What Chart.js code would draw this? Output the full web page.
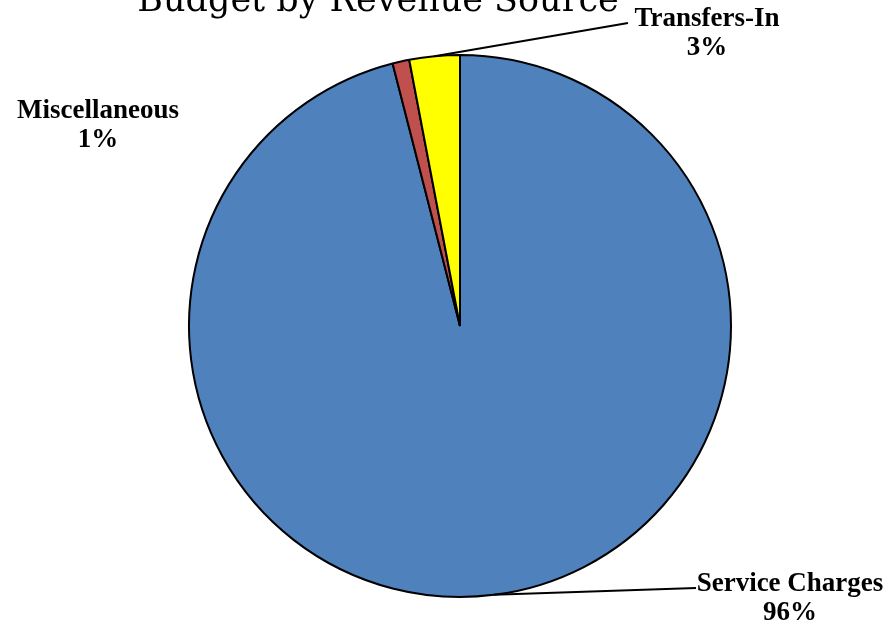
<!DOCTYPE html>
<html>
<head>
<meta charset="utf-8">
<script src="https://cdn.jsdelivr.net/npm/chart.js@4.4.1/dist/chart.umd.min.js"></script>
<style>
  html, body { margin: 0; padding: 0; background: #fff; }
  #wrap { width: 892px; height: 626px; }
</style>
</head>
<body>
<div id="wrap"><canvas id="grafico"></canvas></div>
<script>
var categorias = ['Service Charges', 'Miscellaneous', 'Transfers-In'];
var valores = [96, 1, 3];
var colores = ['#4F81BD', '#C0504D', '#FFFF00'];
var titulo = 'Budget by Revenue Source';

// posiciones de etiquetas (centro x, linea base del nombre, fin de la linea guia)
var etiquetas = [
  { x: 790, y: 591, linea: [696, 588] },
  { x: 98, y: 118, linea: null },
  { x: 707, y: 26, linea: [628, 23] }
];

var fuenteTitulo = '"DejaVu Serif", "Liberation Serif", serif';
var fuente = '"Liberation Serif", "DejaVu Serif", serif';

var etiquetasPlugin = {
  id: 'etiquetasPie',
  afterDraw: function(chart){
    var ctx = chart.ctx;
    var meta = chart.getDatasetMeta(0);
    var total = valores.reduce(function(a, b){ return a + b; }, 0);
    ctx.save();

    // titulo (cortado arriba como en la imagen)
    ctx.fillStyle = '#000';
    ctx.font = '35px ' + fuenteTitulo;
    ctx.textAlign = 'center';
    ctx.textBaseline = 'alphabetic';
    ctx.fillText(titulo, 378, 11);

    meta.data.forEach(function(arc, i){
      var p = arc.getProps(['x', 'y', 'startAngle', 'endAngle', 'outerRadius'], true);
      var mid = (p.startAngle + p.endAngle) / 2;
      var e = etiquetas[i];
      if(e.linea){
        var ax = p.x + Math.cos(mid) * p.outerRadius;
        var ay = p.y + Math.sin(mid) * p.outerRadius;
        ctx.beginPath();
        ctx.moveTo(ax, ay);
        ctx.lineTo(e.linea[0], e.linea[1]);
        ctx.strokeStyle = '#000';
        ctx.lineWidth = 2;
        ctx.stroke();
      }
      ctx.fillStyle = '#000';
      ctx.font = 'bold 27px ' + fuente;
      ctx.textAlign = 'center';
      ctx.textBaseline = 'alphabetic';
      ctx.fillText(categorias[i], e.x, e.y);
      ctx.fillText(Math.round(valores[i] / total * 100) + '%', e.x, e.y + 29);
    });
    ctx.restore();
  }
};

var ctx = document.getElementById('grafico');

new Chart(ctx, {
  type: 'pie',
  data: {
    labels: categorias,
    datasets: [{
      data: valores,
      backgroundColor: colores,
      borderColor: '#000',
      borderWidth: 2
    }]
  },
  options: {
    responsive: true,
    maintainAspectRatio: false,
    animation: false,
    layout: {
      padding: { top: 53, bottom: 27, left: 188, right: 160 }
    },
    plugins: {
      legend: { display: false },
      tooltip: { enabled: false },
      title: { display: false }
    }
  },
  plugins: [etiquetasPlugin]
});
</script>
</body>
</html>
